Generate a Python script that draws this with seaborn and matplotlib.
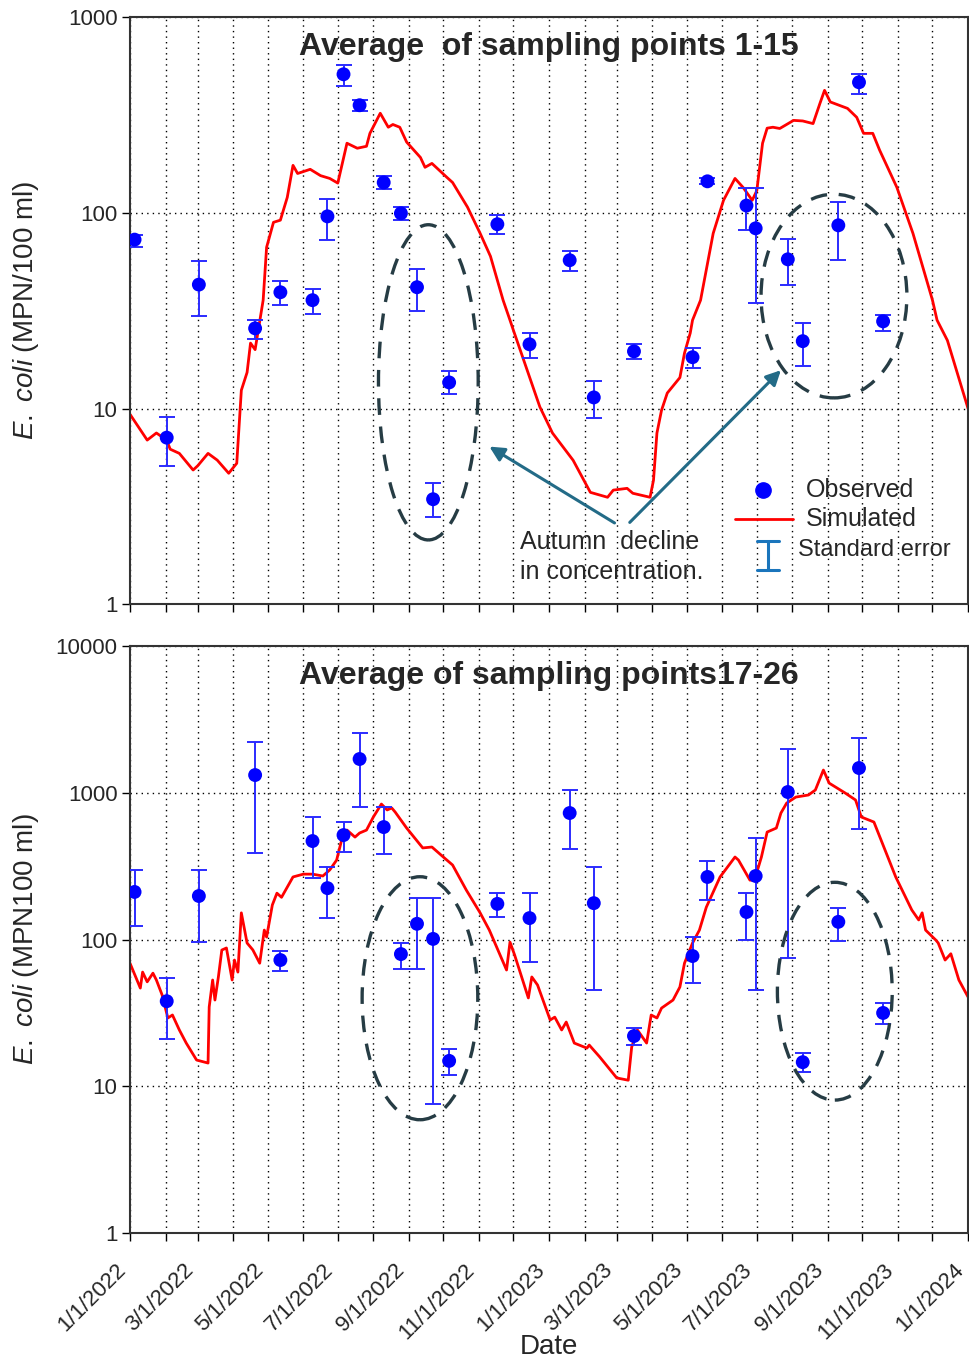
import matplotlib
matplotlib.use('Agg')
import matplotlib.pyplot as plt
import matplotlib.dates as mdates
from matplotlib.patches import Ellipse
from matplotlib.ticker import FixedLocator, FuncFormatter, NullLocator
import seaborn as sns
import pandas as pd

# sampling dates (same for both groups of sampling points)
obs_dates = ['2022-01-05', '2022-02-02', '2022-03-02', '2022-04-20', '2022-05-12',
             '2022-06-09', '2022-06-22', '2022-07-06', '2022-07-20', '2022-08-10',
             '2022-08-25', '2022-09-08', '2022-09-22', '2022-10-06', '2022-11-17',
             '2022-12-15', '2023-01-19', '2023-02-09', '2023-03-16', '2023-05-06',
             '2023-05-19', '2023-06-22', '2023-06-30', '2023-07-28', '2023-08-10',
             '2023-09-10', '2023-09-28', '2023-10-19']

# points 1-15 : mean, lower / upper end of standard error bar
obs1 = [73, 7.1, 43, 25.7, 39.3, 35.8, 96, 511, 355, 143, 99.5, 41.7, 3.44, 13.6,
        87.5, 21.3, 57.3, 11.4, 19.6, 18.3, 145, 109, 83.4, 57.9, 22.1, 86.4, 465, 27.9]
lo1 = [67, 5.1, 29.6, 22.6, 33.7, 30.6, 73, 443, 330, 132, 92, 31.4, 2.78, 11.8,
       77.6, 18.1, 50.3, 9.0, 17.9, 16.1, 140, 82, 34.8, 42.8, 16.5, 57.2, 407, 25]
hi1 = [77, 9.1, 56.6, 28.5, 45, 40.8, 118, 567, 377, 155, 107, 51.5, 4.15, 15.5,
       97.6, 24.2, 63.8, 13.9, 21.3, 20.4, 150, 134, 134, 73.3, 27.3, 114, 510, 30]

# points 17-26
obs2 = [211, 38, 198, 1321, 72.5, 469, 224, 515, 1699, 584, 79.6, 128, 101, 14.9,
        175, 140, 728, 177, 22, 77.2, 267, 154, 271, 1012, 14.6, 132, 1475, 31.6]
lo2 = [124, 21, 96, 388, 61, 262, 140, 395, 800, 383, 63, 63, 7.57, 11.9,
       142, 70, 414, 45, 19.1, 50.6, 186, 99, 45, 74.8, 12.5, 98, 566, 26.6]
hi2 = [298, 54.6, 298, 2218, 83.5, 684, 312, 632, 2554, 800, 94.7, 192, 192, 17.9,
       207, 207, 1044, 312, 24.9, 104, 343, 207, 492, 1986, 16.9, 164, 2361, 36.9]

# simulated, points 1-15
sim1_dates = ['2022-01-01', '2022-01-16', '2022-01-24', '2022-02-02', '2022-02-05',
              '2022-02-13', '2022-02-25', '2022-03-01', '2022-03-10', '2022-03-18',
              '2022-03-28', '2022-04-04', '2022-04-08', '2022-04-13', '2022-04-16',
              '2022-04-20', '2022-04-27', '2022-04-30', '2022-05-06', '2022-05-12',
              '2022-05-18', '2022-05-23', '2022-05-27', '2022-06-07', '2022-06-16',
              '2022-06-24', '2022-07-01', '2022-07-09', '2022-07-18', '2022-07-26',
              '2022-07-29', '2022-08-07', '2022-08-14', '2022-08-18', '2022-08-24',
              '2022-08-30', '2022-09-11', '2022-09-15', '2022-09-21', '2022-10-04',
              '2022-10-09', '2022-10-22', '2022-11-02', '2022-11-11', '2022-11-22',
              '2022-11-28', '2022-12-01', '2022-12-24', '2023-01-04', '2023-01-22',
              '2023-02-06', '2023-02-21', '2023-02-26', '2023-03-10', '2023-03-15',
              '2023-03-30', '2023-04-02', '2023-04-05', '2023-04-09', '2023-04-14',
              '2023-04-25', '2023-04-29', '2023-05-04', '2023-05-06', '2023-05-13',
              '2023-05-24', '2023-06-02', '2023-06-12', '2023-06-19', '2023-06-27',
              '2023-07-01', '2023-07-06', '2023-07-10', '2023-07-15', '2023-07-21',
              '2023-08-02', '2023-08-10', '2023-08-19', '2023-08-25', '2023-08-29',
              '2023-09-03', '2023-09-18', '2023-09-26', '2023-10-02', '2023-10-10',
              '2023-10-16', '2023-10-31', '2023-11-14', '2023-12-01', '2023-12-05',
              '2023-12-14', '2024-01-01']
sim1 = [9.35, 6.9, 7.5, 6.9, 6.2, 5.9, 4.85, 5.1, 5.9, 5.45,
        4.67, 5.25, 12.4, 15.3, 21.6, 20, 35.8, 66.7, 89.5, 91.8,
        120, 175, 159, 167, 155, 150, 142, 227, 214, 219,
        255, 323, 274, 283, 274, 230, 192, 171, 179, 152,
        143, 107, 78.6, 60, 35.8, 28.3, 25.1, 10.2, 7.5, 5.44,
        3.73, 3.52, 3.83, 3.91, 3.69, 3.52, 4.3, 7.5, 9.8, 12.0,
        14.4, 19.2, 24.3, 28.3, 35.8, 78.6, 116, 150, 135, 116,
        130, 227, 271, 274, 270, 297, 295, 286, 363, 423,
        369, 342, 308, 255, 255, 209, 135, 78.6, 35.8, 28.3,
        22.3, 10]

# simulated, points 17-26
sim2_dates = ['2022-01-01', '2022-01-10', '2022-01-12', '2022-01-16', '2022-01-21',
              '2022-01-24', '2022-01-29', '2022-02-03', '2022-02-07', '2022-02-13',
              '2022-02-19', '2022-02-28', '2022-03-10', '2022-03-11', '2022-03-14',
              '2022-03-16', '2022-03-19', '2022-03-22', '2022-03-26', '2022-03-31',
              '2022-04-02', '2022-04-05', '2022-04-08', '2022-04-13', '2022-04-18',
              '2022-04-24', '2022-04-28', '2022-04-30', '2022-05-05', '2022-05-09',
              '2022-05-13', '2022-05-23', '2022-06-01', '2022-06-09', '2022-06-18',
              '2022-06-24', '2022-06-30', '2022-07-05', '2022-07-09', '2022-07-16',
              '2022-07-20', '2022-07-26', '2022-08-01', '2022-08-08', '2022-08-13',
              '2022-08-17', '2022-08-20', '2022-08-30', '2022-09-13', '2022-09-21',
              '2022-10-02', '2022-10-09', '2022-10-21', '2022-11-02', '2022-11-10',
              '2022-11-25', '2022-11-28', '2022-12-02', '2022-12-14', '2022-12-17',
              '2022-12-22', '2023-01-02', '2023-01-06', '2023-01-12', '2023-01-16',
              '2023-01-23', '2023-02-03', '2023-02-05', '2023-02-14', '2023-03-01',
              '2023-03-11', '2023-03-14', '2023-03-19', '2023-03-27', '2023-03-31',
              '2023-04-05', '2023-04-09', '2023-04-19', '2023-04-25', '2023-04-29',
              '2023-05-06', '2023-05-12', '2023-05-18', '2023-05-30', '2023-06-12',
              '2023-06-15', '2023-06-25', '2023-06-29', '2023-07-05', '2023-07-10',
              '2023-07-18', '2023-07-22', '2023-07-27', '2023-08-04', '2023-08-15',
              '2023-08-21', '2023-08-28', '2023-09-02', '2023-09-16', '2023-09-25',
              '2023-09-30', '2023-10-11', '2023-10-30', '2023-11-13', '2023-11-19',
              '2023-11-22', '2023-11-25', '2023-12-04', '2023-12-06', '2023-12-12',
              '2023-12-17', '2023-12-24', '2024-01-01']
sim2 = [69, 46.7, 60, 51.5, 59, 53, 41.9, 29.2, 30.6, 24.2,
        19.7, 15.1, 14.4, 34.7, 53, 38.7, 55.6, 84.8, 87.6, 53,
        72.5, 60, 152, 94.7, 85, 69, 116, 104, 172, 207,
        194, 267, 279, 279, 271, 298, 348, 499, 557, 499,
        532, 557, 684, 838, 764, 788, 739, 575, 421, 427,
        359, 322, 217, 152, 116, 62, 96, 78.6, 40, 55.6,
        49, 28.3, 29.6, 24.2, 27.4, 19.7, 18.2, 19.1, 15.9, 11.4,
        11.0, 18.5, 24.2, 19.7, 30.6, 29.2, 34.1, 38.7, 47.5, 69,
        94.7, 116, 166, 267, 365, 348, 254, 254, 365, 540,
        575, 728, 851, 935, 966, 1045, 1429, 1164, 996, 893,
        684, 632, 267, 159, 136, 152, 116, 99, 94.7, 72.5,
        80, 53, 40.6]

sns.set_style('white')
plt.rcParams['font.family'] = ['Liberation Sans', 'DejaVu Sans']
plt.rcParams['mathtext.fontset'] = 'custom'
plt.rcParams['mathtext.rm'] = 'Liberation Sans'
plt.rcParams['mathtext.it'] = 'Liberation Sans:italic'

fig = plt.figure(figsize=(9.7, 13.67), dpi=100)
ax1 = fig.add_axes([0.134, 0.558, 0.864, 0.4294])
ax2 = fig.add_axes([0.134, 0.098, 0.864, 0.4294])


def draw_panel(ax, sim_d, sim_v, obs, lo, hi, ymax, title, ylabel, ells):
    sim = pd.DataFrame({'date': pd.to_datetime(sim_d), 'val': sim_v})
    ob = pd.DataFrame({'date': pd.to_datetime(obs_dates), 'val': obs,
                       'lo': lo, 'hi': hi})
    ax.errorbar(ob['date'], ob['val'],
                yerr=[ob['val'] - ob['lo'], ob['hi'] - ob['val']],
                fmt='none', ecolor='#2b2bff', elinewidth=1.4, capsize=6,
                capthick=1.4, zorder=3)
    sns.lineplot(data=sim, x='date', y='val', ax=ax, color='#ff0000', lw=2,
                 estimator=None, sort=False, zorder=2)
    sns.scatterplot(data=ob, x='date', y='val', ax=ax, color='#0000ff', s=100,
                    edgecolor='none', zorder=4)
    ax.set_yscale('log')
    ax.set_ylim(1, ymax)
    ax.set_xlim(pd.Timestamp('2022-01-01'), pd.Timestamp('2024-01-01'))
    ticks = [1, 10, 100, 1000, 10000]
    ax.yaxis.set_major_locator(FixedLocator([t for t in ticks if t <= ymax]))
    ax.yaxis.set_major_formatter(FuncFormatter(lambda v, p: f'{v:g}'))
    ax.yaxis.set_minor_locator(NullLocator())
    ax.xaxis.set_major_locator(mdates.MonthLocator(bymonth=[1, 3, 5, 7, 9, 11]))
    ax.xaxis.set_minor_locator(mdates.MonthLocator())
    ax.xaxis.set_major_formatter(FuncFormatter(
        lambda v, p: '{d.month}/{d.day}/{d.year}'.format(d=mdates.num2date(v))))
    ax.grid(True, which='both', axis='x', ls=(0, (1, 3)), color='black', lw=1)
    ax.grid(True, which='major', axis='y', ls=(0, (1, 3)), color='black', lw=1)
    ax.tick_params(axis='both', which='both', direction='out', length=5.5,
                   width=1, color='black', labelsize=16, bottom=True, left=True)
    for s in ax.spines.values():
        s.set_color('#333333')
        s.set_linewidth(1.5)
    ax.text(0.5, 0.949, title, transform=ax.transAxes, ha='center',
            va='center', fontsize=23, fontweight='bold')
    ax.set_xlabel('')
    ax.set_ylabel(ylabel, fontsize=20)
    ax.yaxis.set_label_coords(-0.106, 0.5)
    for (cx, cy, w, h) in ells:
        ax.add_patch(Ellipse((cx, cy), w, h, transform=ax.transAxes,
                             fill=False, ec='#263c44', lw=2.4,
                             ls=(0, (5, 3.5)), zorder=5))


draw_panel(ax1, sim1_dates, sim1, obs1, lo1, hi1, 1000,
           'Average  of sampling points 1-15',
           r'$\it{E.\ coli}$ (MPN/100 ml)',
           [(0.356, 0.378, 0.119, 0.537), (0.840, 0.525, 0.174, 0.347)])
draw_panel(ax2, sim2_dates, sim2, obs2, lo2, hi2, 10000,
           'Average of sampling points17-26',
           r'$\it{E.\ coli}$ (MPN100 ml)',
           [(0.346, 0.400, 0.138, 0.414), (0.841, 0.412, 0.137, 0.371)])

ax1.tick_params(axis='x', labelbottom=False)
ax2.tick_params(axis='x', which='major', pad=24)
for lab in ax2.get_xticklabels():
    lab.set_rotation(45)
    lab.set_ha('right')
    lab.set_va('bottom')
    lab.set_rotation_mode('anchor')
    lab.set_fontsize(16)
ax2.set_xlabel('Date', fontsize=20)
ax2.xaxis.set_label_coords(0.5, -0.172)

# annotation arrows
acol = '#236b87'
ax1.text(0.465, 0.081, 'Autumn  decline\nin concentration.', transform=ax1.transAxes,
         ha='left', va='center', fontsize=18, linespacing=1.3)
ax1.annotate('', xy=(0.426, 0.271), xytext=(0.581, 0.136), xycoords='axes fraction',
             arrowprops=dict(arrowstyle='-|>', color=acol, lw=2.2, mutation_scale=22))
ax1.annotate('', xy=(0.779, 0.402), xytext=(0.594, 0.136), xycoords='axes fraction',
             arrowprops=dict(arrowstyle='-|>', color=acol, lw=2.2, mutation_scale=22))

# legend drawn by hand
tr = ax1.transAxes
ax1.plot([0.755], [0.194], 'o', color='#0000ff', ms=11, transform=tr, clip_on=False)
ax1.text(0.807, 0.194, 'Observed', transform=tr, va='center', fontsize=18)
ax1.plot([0.722, 0.791], [0.146, 0.146], color='#ff0000', lw=2, transform=tr)
ax1.text(0.807, 0.146, 'Simulated', transform=tr, va='center', fontsize=18)
ax1.plot([0.761, 0.761], [0.058, 0.107], color='#1a75bc', lw=2.2, transform=tr)
ax1.plot([0.748, 0.774], [0.107, 0.107], color='#1a75bc', lw=2.2, transform=tr)
ax1.plot([0.748, 0.774], [0.058, 0.058], color='#1a75bc', lw=2.2, transform=tr)
ax1.text(0.797, 0.092, 'Standard error', transform=tr, va='center', fontsize=17)

fig.savefig('out.png', dpi=100)
